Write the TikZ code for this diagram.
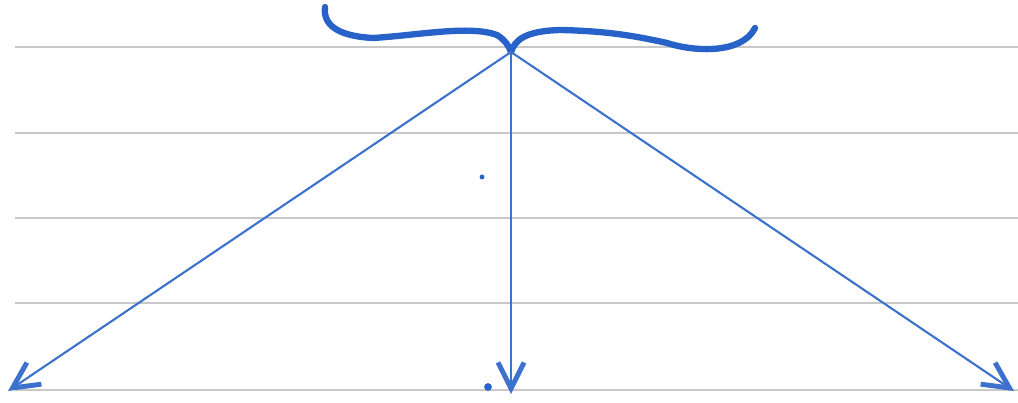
\documentclass[tikz,border=0pt]{standalone}
\usepackage{tikz}
\usetikzlibrary{arrows.meta}
\definecolor{ink}{RGB}{38,98,200}
\definecolor{rule}{RGB}{200,200,200}
\tikzset{
  ruled/.style   = {draw=rule, line width=0.35pt},
  brace/.style   = {draw=ink, line width=1.8pt, line cap=round, line join=round},
  ray/.style     = {draw=ink!90, line width=0.6pt,
                    -{Straight Barb[length=2.6mm, width=2.6mm, line width=1.4pt]}},
  speck/.style   = {circle, fill=ink, inner sep=0pt, minimum size=1.4pt},
}
\begin{document}
\begin{tikzpicture}[x=0.01cm, y=-0.01cm]
  \useasboundingbox (0,0) rectangle (1018,403);
  % paper rules
  \foreach \yy in {47,133,218,303,390}
    \draw[ruled] (15,\yy) -- (1018,\yy);
  % the brace and its tip
  \coordinate (tip) at (511,52);
  \draw[brace] (325,7) .. controls (323,24) and (336,36) .. (373,38)
    .. controls (420,35) and (470,25) .. (497,35)
    .. controls (505,40) and (509,46) .. (tip)
    .. controls (515,40) and (525,31) .. (560,30)
    .. controls (610,31) and (640,37) .. (667,43)
    .. controls (695,52) and (742,54) .. (755,28);
  % three rays down to the bottom rule
  \coordinate (lft) at (8,391);
  \coordinate (mid) at (511,394);
  \coordinate (rgt) at (1014,391);
  \draw[ray] (tip) -- (lft);
  \draw[ray] (tip) -- (mid);
  \draw[ray] (tip) -- (rgt);
  \node[speck, minimum size=2.2pt] (dt) at (488,387) {};
  \node[speck] (sp) at (482,177) {};
\end{tikzpicture}
\end{document}
